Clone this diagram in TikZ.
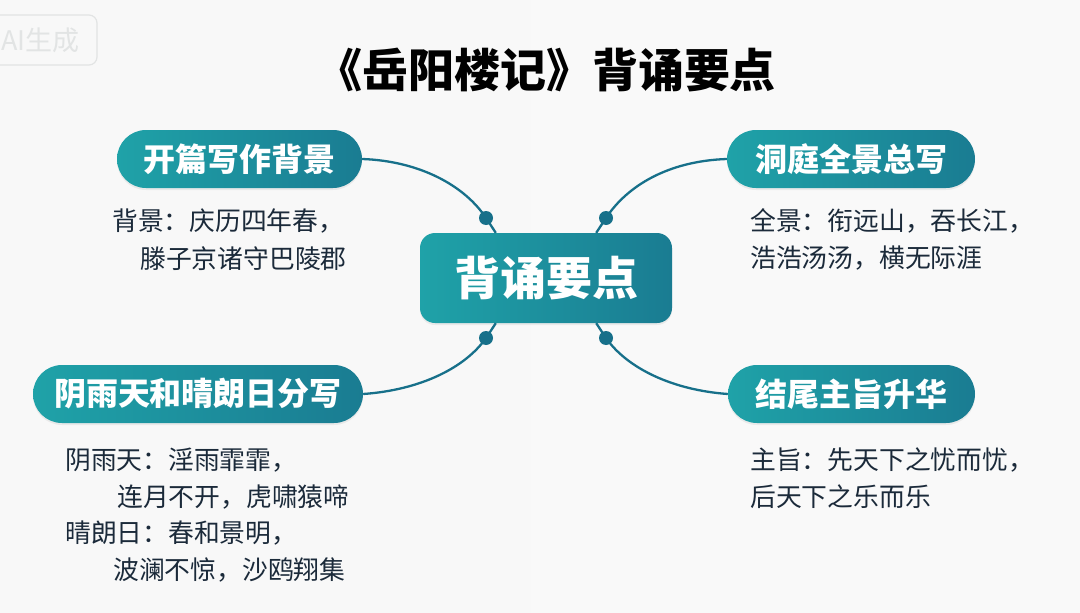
\documentclass[tikz,border=0pt]{standalone}
\usepackage{fontspec}
\setmainfont{Noto Sans CJK SC}
\usetikzlibrary{calc,shadows}
\definecolor{tealL}{HTML}{1FA2A8}
\definecolor{tealR}{HTML}{1A7C92}
\definecolor{connc}{HTML}{17708A}
\definecolor{bodyc}{HTML}{1B2A3A}
\definecolor{wmc}{HTML}{E2E4E4}
\pgfdeclarehorizontalshading{bgsh}{100bp}{color(0bp)=(black!8); color(8bp)=(black!3); color(100bp)=(black!2)}
\tikzset{
  pill/.style={rounded corners=29pt, minimum height=58pt, inner sep=0pt,
    left color=tealL, right color=tealR, text=white,
    font=\fontsize{32}{32}\selectfont\bfseries,
    drop shadow={opacity=0.12, shadow xshift=0pt, shadow yshift=-2pt}},
  hub/.style={rounded corners=15pt, minimum width=252pt, minimum height=90pt, inner sep=0pt,
    left color=tealL, right color=tealR, text=white,
    font=\fontsize{46}{46}\selectfont\bfseries,
    drop shadow={opacity=0.12, shadow xshift=0pt, shadow yshift=-2pt}},
  body/.style={anchor=west, inner sep=0pt, text=bodyc, font=\fontsize{25.8}{26}\selectfont},
  conn/.style={draw=connc, line width=2.3pt},
  dotc/.style={fill=connc},
}
\begin{document}
\begin{tikzpicture}[x=1pt,y=-1pt]
\useasboundingbox (0,0) rectangle (1080,613);
\shade[shading=bgsh] (0,0) rectangle (1080,613);
% watermark
\draw[wmc, line width=1.2pt, rounded corners=8pt] (-12,15) rectangle (97,65);
\node[anchor=west, inner sep=0pt, text=wmc, font=\fontsize{27}{27}\selectfont] (wm) at (1,40) {AI生成};
% title
\node[font=\fontsize{46}{46}\selectfont\bfseries, text=black] (title) at (546,70) {《岳阳楼记》背诵要点};
% hub
\node[hub] (c) at (546,278) {背诵要点};
% branches
\node[pill, minimum width=245pt] (p1) at (239.5,159) {开篇写作背景};
\node[pill, minimum width=248pt] (p2) at (851,159) {洞庭全景总写};
\node[pill, minimum width=330pt] (p3) at (198,394) {阴雨天和晴朗日分写};
\node[pill, minimum width=247pt] (p4) at (851.5,394) {结尾主旨升华};
% dots
\coordinate (d1) at (486,218);
\coordinate (d2) at (606,218);
\coordinate (d3) at (486,338);
\coordinate (d4) at (606,338);
% connectors
\draw[conn] (p1.east) .. controls (420,161) and (465,186) .. (d1) -- ($(c.north west)+(76,0)$);
\draw[conn] (p2.west) .. controls (668,161) and (627,186) .. (d2) -- ($(c.north east)+(-76,0)$);
\draw[conn] (p3.east) .. controls (420,390) and (465,368) .. (d3) -- ($(c.south west)+(76,0)$);
\draw[conn] (p4.west) .. controls (672,390) and (627,368) .. (d4) -- ($(c.south east)+(-76,0)$);
\foreach \d in {d1,d2,d3,d4} \fill[dotc] (\d) circle (7pt);
% body texts
\node[body] (t1a) at (112,221) {背景：庆历四年春，};
\node[body] (t1b) at (140,259) {滕子京诸守巴陵郡};
\node[body] (t2a) at (750,221) {全景：衔远山，吞长江，};
\node[body] (t2b) at (750,258) {浩浩汤汤，横无际涯};
\node[body] (t3a) at (65,460) {阴雨天：淫雨霏霏，};
\node[body] (t3b) at (117,497) {连月不开，虎啸猿啼};
\node[body] (t3c) at (65,533) {晴朗日：春和景明，};
\node[body] (t3d) at (113,570) {波澜不惊，沙鸥翔集};
\node[body] (t4a) at (750,460) {主旨：先天下之忧而忧，};
\node[body] (t4b) at (750,497) {后天下之乐而乐};
\end{tikzpicture}
\end{document}
